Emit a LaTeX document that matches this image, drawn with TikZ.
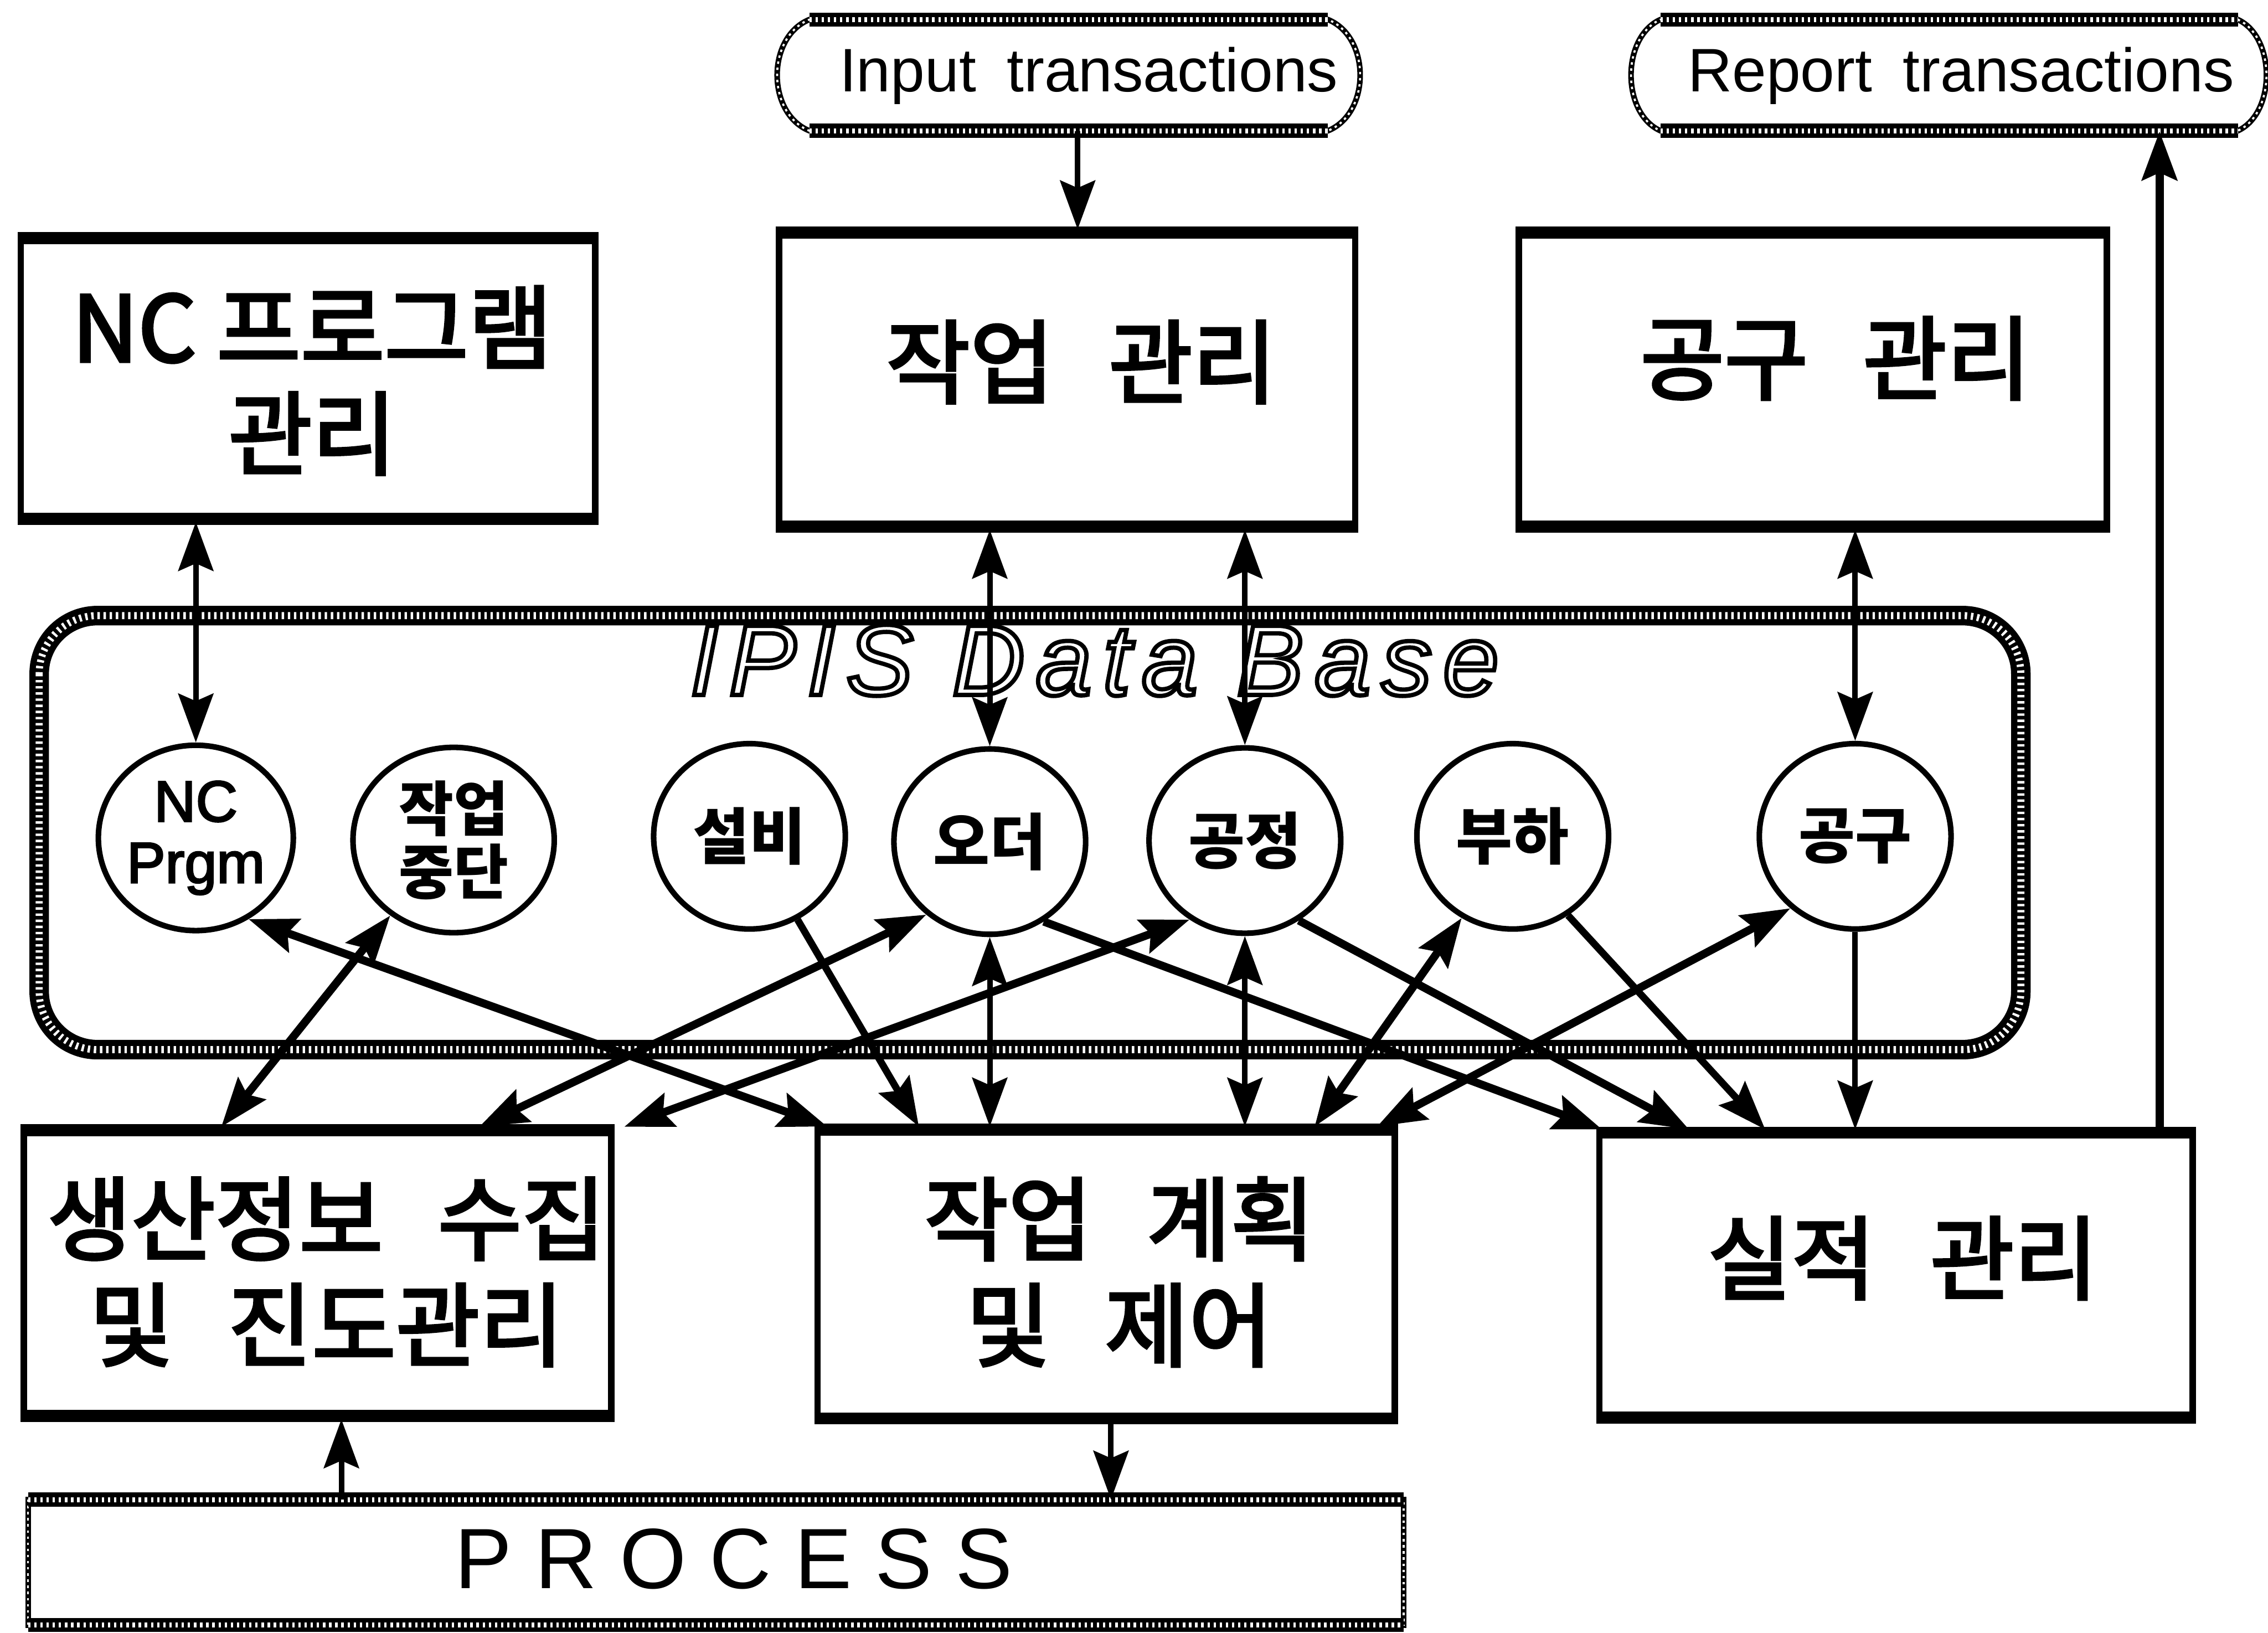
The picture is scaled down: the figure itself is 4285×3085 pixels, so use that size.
\documentclass[tikz,border=0pt]{standalone}
\usepackage{fontspec}
\setmainfont{Liberation Sans}
\newfontfamily\kr{Noto Sans CJK KR}
\newfontfamily\ipisfont{Liberation Sans}[LetterSpace=11]
\newfontfamily\procfont{Liberation Sans}[LetterSpace=27]
\usetikzlibrary{arrows.meta,calc,shapes.geometric}
\newcommand\wgap{\hspace{0.6em}}
\newcommand\outl[1]{\special{pdf:literal direct 1 Tr 2.3 w}#1\special{pdf:literal direct 0 Tr}}
\newcommand\emb[1]{\special{pdf:literal direct 2 Tr 1.5 w}#1\special{pdf:literal direct 0 Tr}}
\newcommand\embs[1]{\special{pdf:literal direct 2 Tr 0.9 w}#1\special{pdf:literal direct 0 Tr}}
\begin{document}
\begin{tikzpicture}[x=0.01cm,y=-0.01cm,
  >={Stealth[length=0.92cm,width=0.66cm,inset=0.14cm]},
  chainband/.style={draw=black,line width=#1,postaction={draw=white,line width=0.36*#1,dash pattern=on 1.3pt off 2pt}},
  boxn/.style={draw,line width=3.5pt,inner sep=0pt},
  boxt/.style={inner sep=0pt,align=center,font=\kr\fontsize{49}{57}\selectfont},
  dbn/.style={draw,ellipse,line width=3pt,minimum width=3.62cm,minimum height=3.5cm,inner sep=0pt,align=center,font=\kr\bfseries\fontsize{33}{34}\selectfont},
  trn/.style={inner sep=0pt,outer sep=0pt,minimum height=2.1cm,font=\fontsize{33}{40}\selectfont},
  vl/.style={line width=3pt},
  dl/.style={line width=4.3pt},
]
\useasboundingbox (0,0) rectangle (4285,3085);
\fill[white] (0,0) rectangle (4285,3085);

% transaction terminals
\draw[chainband=3pt] (1529,37) -- (2509,37) .. controls (2590,70) and (2590,214) .. (2509,247) -- (1529,247) .. controls (1448,214) and (1448,70) .. cycle;
\draw[chainband=7.5pt] (1529,37) -- (2509,37) (1529,247) -- (2509,247);
\node[trn] (inp) at (2057,143) {Input\hspace{0.5em}transactions};
\draw[chainband=3pt] (3137,37) -- (4228,37) .. controls (4300,70) and (4300,214) .. (4228,247) -- (3137,247) .. controls (3063,214) and (3063,70) .. cycle;
\draw[chainband=7.5pt] (3137,37) -- (4228,37) (3137,247) -- (4228,247);
\node[trn] (rep) at (3705,143) {Report\hspace{0.5em}transactions};

% IPIS data base frame
\draw[chainband=10.5pt,rounded corners=1.1cm] (74,1163) rectangle (3818,1983);
\node[anchor=base,inner sep=0pt] (ttl) at (2068,1313) {\ipisfont\itshape\fontsize{54}{60}\selectfont\outl{IPIS Data Base}};

% top boxes
\node[boxn,minimum width=10.85cm,minimum height=5.3cm] (ncm) at (582,715) {};
\node[boxt] (ncmt) at (590,719) {\emb{NC 프로그램\\관리}};
\node[boxn,minimum width=10.88cm,minimum height=5.55cm] (jm) at (2016,717) {};
\node[boxt] (jmt) at (2043,684) {\emb{작업\wgap 관리}};
\node[boxn,minimum width=11.1cm,minimum height=5.55cm] (gm) at (3425,717) {};
\node[boxt] (gmt) at (3468,677) {\emb{공구\wgap 관리}};

% data base entities
\node[dbn,font=\fontsize{31}{33}\selectfont] (nc) at (370,1583) {\embs{NC\\Prgm}};
\node[dbn,minimum width=3.8cm,font=\kr\bfseries\fontsize{32}{34}\selectfont] (js) at (857,1587) {작업\\중단};
\node[dbn] (sb) at (1416,1580) {설비};
\node[dbn] (od) at (1870,1590) {오더};
\node[dbn] (gj) at (2352,1588) {공정};
\node[dbn] (bh) at (2858,1580) {부하};
\node[dbn] (gg) at (3505,1580) {공구};

% lower boxes
\node[boxn,minimum width=11.1cm,minimum height=5.4cm] (prod) at (600,2405) {};
\node[boxt] (prodt) at (617,2403) {\emb{생산정보\wgap 수집\\및\wgap 진도관리}};
\node[boxn,minimum width=10.9cm,minimum height=5.45cm] (plan) at (2090,2407) {};
\node[boxt] (plant) at (2115,2403) {\emb{작업\wgap 계획\\및\wgap 제어}};
\node[boxn,minimum width=11.2cm,minimum height=5.38cm] (perf) at (3582,2409) {};
\node[boxt] (perft) at (3595,2377) {\emb{실적\wgap 관리}};

\foreach \b in {ncm,jm,gm,prod,plan,perf}{
  \draw[line width=6.5pt] ([yshift=-1.75pt]\b.north west) -- ([yshift=-1.75pt]\b.north east);
  \draw[line width=6.5pt] ([yshift=1.75pt]\b.south west) -- ([yshift=1.75pt]\b.south east);
}

% process
\draw[chainband=3pt] (53,2833) rectangle (2652,3070);
\draw[chainband=7.5pt] (53,2833) -- (2652,2833) (53,3070) -- (2652,3070);
\node[inner sep=0pt,outer sep=0pt,minimum height=2.24cm,font=\procfont\fontsize{46}{50}\selectfont] (proc) at (1386,2945) {PROCESS};

% helper x positions
\coordinate (ia) at (2036,0);
\coordinate (ra) at (4080,0);
\coordinate (pa) at (2099,0);
\coordinate (qa) at (645,0);

% top connectors
\draw[vl,->] (inp.south -| ia) -- (jm.north -| ia);
\draw[line width=4.5pt,->] (perf.north -| ra) -- (rep.south -| ra);
\draw[vl,<->] (ncm.south -| nc.north) -- (nc.north);
\draw[vl,<->] (jm.south -| od.north) -- (od.north);
\draw[vl,<->] (jm.south -| gj.north) -- (gj.north);
\draw[vl,<->] (gm.south -| gg.north) -- (gg.north);

% lower connectors
\draw[dl,<->] (nc.-57) -- ($(plan.north west)!0.022!(plan.north east)$);
\draw[dl,<->] (js.-130) -- ($(prod.north west)!0.338!(prod.north east)$);
\draw[line width=3.8pt,->] (sb.-60) -- ($(plan.north west)!0.179!(plan.north east)$);
\draw[dl,<->] (od.-131) -- ($(prod.north west)!0.772!(prod.north east)$);
\draw[vl,<->] (od.south) -- (od.south |- plan.north);
\draw[dl,->] (od.-56) -- ($(perf.north west)!0.01!(perf.north east)$);
\draw[dl,<->] (gj.-125) -- ($(prod.north west)!1.016!(prod.north east)$);
\draw[vl,<->] (gj.south) -- (gj.south |- plan.north);
\draw[dl,<->] (bh.-122) -- ($(plan.north west)!0.857!(plan.north east)$);
\draw[dl,<->] (gg.-132) -- ($(plan.north west)!0.964!(plan.north east)$);
\draw[dl,->] (gj.-56) -- ($(perf.north west)!0.155!(perf.north east)$);
\draw[line width=3.8pt,->] (bh.-55) -- ($(perf.north west)!0.282!(perf.north east)$);
\draw[vl,->] (gg.south) -- (gg.south |- perf.north);

% process connectors
\draw[vl,->] (plan.south -| pa) -- (proc.north -| pa);
\draw[vl,->] (proc.north -| qa) -- (prod.south -| qa);
\end{tikzpicture}
\end{document}
